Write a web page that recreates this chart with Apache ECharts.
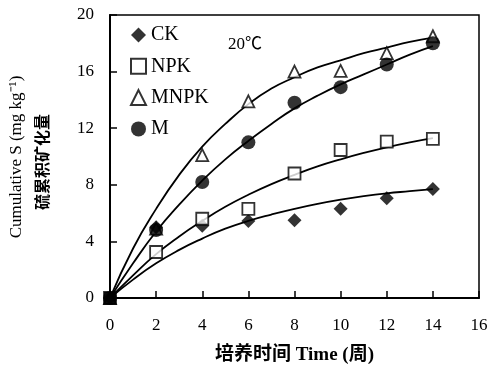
<!DOCTYPE html>
<html>
<head>
<meta charset="utf-8">
<script src="https://cdn.jsdelivr.net/npm/echarts@6/dist/echarts.min.js"></script>
<style>html,body{margin:0;padding:0;background:#fff}#c{width:488px;height:366px}</style>
</head>
<body>
<div id="c"></div>
<script>
// Measured points (x = weeks)
var weeks = [0, 2, 4, 6, 8, 10, 12, 14];
var ckPts   = [0, 5.0, 5.1, 5.45, 5.5, 6.3, 7.05, 7.7];
var npkPts  = [0, 3.25, 5.6, 6.3, 8.8, 10.46, 11.05, 11.25];
var mnpkPts = [0, 4.9, 10.1, 13.9, 16.0, 16.05, 17.3, 18.5];
var mPts    = [0, 4.8, 8.2, 11.0, 13.8, 14.9, 16.5, 18.0];

// Fitted curves (x = weeks 0..14)
var curveX    = [0,1,2,3,4,5,6,7,8,9,10,11,12,13,14];
var ckCurve   = [0,1.3,2.45,3.4,4.2,4.9,5.45,5.9,6.3,6.65,6.95,7.2,7.4,7.55,7.7];
var npkCurve  = [0,1.6,3.1,4.35,5.45,6.45,7.3,8.05,8.7,9.3,9.8,10.25,10.65,11.0,11.3];
var mnpkCurve = [0,3.5,6.3,8.7,10.7,12.3,13.7,14.8,15.6,16.3,16.8,17.3,17.7,18.1,18.4];
var mCurve    = [0,2.45,4.7,6.6,8.3,9.8,11.1,12.3,13.4,14.3,15.1,15.8,16.5,17.2,17.8];

var xTicks = [0,2,4,6,8,10,12,14,16];
var yTicks = [0,4,8,12,16,20];
var names = ['CK','NPK','MNPK','M'];

function pairs(xs, ys){ return xs.map(function(x,i){ return [x, ys[i]]; }); }

var serif = '"Liberation Serif","Times New Roman","Noto Sans CJK SC",serif';

function curve(ys){
  return {type:'line', data:pairs(curveX, ys), smooth:true, showSymbol:false, symbol:'none',
    lineStyle:{color:'#000', width:1.8}, silent:true, z:2};
}

var chart = echarts.init(document.getElementById('c'), null, {renderer:'canvas'});
chart.setOption({
  animation:false,
  backgroundColor:'#fff',
  grid:{left:110, right:9, top:15, bottom:68, show:true, borderColor:'#000', borderWidth:1.5,
    backgroundColor:'transparent', containLabel:false, outerBoundsMode:'none'},
  xAxis:{type:'value', min:0, max:16, interval:2,
    axisLine:{lineStyle:{color:'#000', width:2}},
    axisTick:{inside:true, length:7, lineStyle:{color:'#000', width:1.5}},
    axisLabel:{color:'#000', fontSize:17, fontFamily:serif, margin:19},
    splitLine:{show:false},
    name:'培养时间 Time (周)', nameLocation:'middle', nameGap:48,
    nameTextStyle:{color:'#000', fontSize:19, fontWeight:'bold', fontFamily:serif}
  },
  yAxis:{type:'value', min:0, max:20, interval:4,
    axisLine:{lineStyle:{color:'#000', width:2}},
    axisTick:{inside:true, length:7, lineStyle:{color:'#000', width:1.5}},
    axisLabel:{color:'#000', fontSize:17, fontFamily:serif, margin:16},
    splitLine:{show:false}
  },
  legend:{data:names, orient:'vertical', left:130, top:25, padding:0, itemGap:11.3, itemWidth:15, itemHeight:15,
    textStyle:{color:'#000', fontSize:20, fontFamily:serif, lineHeight:20}},
  graphic:[
    {type:'text', left:228, top:36, style:{text:'20℃', fontSize:17, fontFamily:serif, fill:'#000'}},
    {type:'text', x:17, y:157, rotation:Math.PI/2, style:{text:'Cumulative S (mg kg⁻¹)', fontSize:17, fontFamily:serif, fill:'#000', align:'center', verticalAlign:'middle'}},
    {type:'text', x:42, y:162, rotation:Math.PI/2, style:{text:'硫累积矿化量', fontSize:16, fontWeight:'bold', fontFamily:'"Noto Sans CJK SC",sans-serif', fill:'#000', align:'center', verticalAlign:'middle'}}
  ],
  series:[
    curve(ckCurve), curve(npkCurve), curve(mnpkCurve), curve(mCurve),
    {name:'CK', type:'scatter', data:pairs(weeks, ckPts), symbol:'diamond', symbolSize:14,
      itemStyle:{color:'#000'}, z:5},
    {name:'NPK', type:'scatter', data:pairs(weeks, npkPts).map(function(p,i){ return i===0 ? {value:p, itemStyle:{color:'#000'}} : p; }),
      symbol:'rect', symbolSize:12, itemStyle:{color:'#fff', borderColor:'#000', borderWidth:1.8}, z:6},
    {name:'MNPK', type:'scatter', data:pairs(weeks, mnpkPts), symbol:'triangle', symbolSize:12,
      itemStyle:{color:'#fff', borderColor:'#000', borderWidth:1.8}, z:4},
    {name:'M', type:'scatter', data:pairs(weeks, mPts), symbol:'circle', symbolSize:14,
      itemStyle:{color:'#000'}, z:7}
  ]
});
</script>
</body>
</html>
